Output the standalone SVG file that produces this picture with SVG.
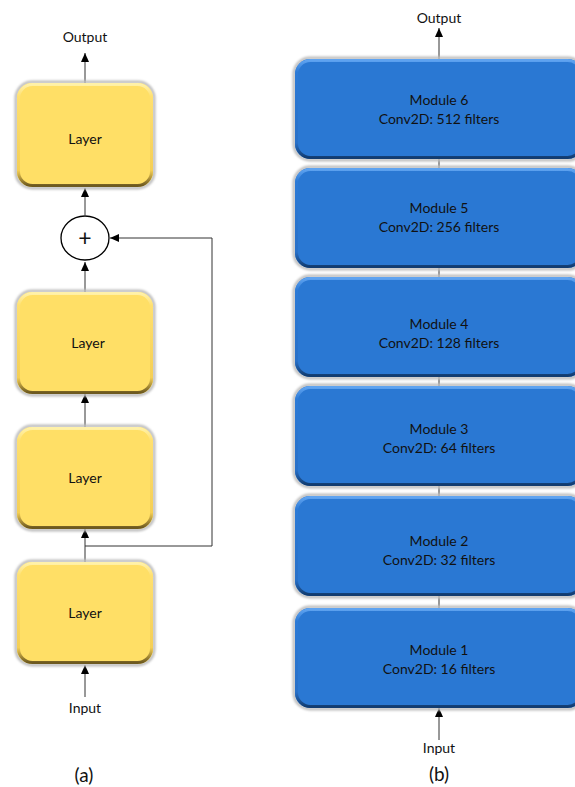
<svg xmlns="http://www.w3.org/2000/svg" width="575" height="787" viewBox="0 0 575 787">
<style>
text{font-family:Lato,"Noto Sans","Liberation Sans",sans-serif;font-size:13px;fill:#111;text-anchor:middle}
.lbl{font-size:14px}
.cap{font-size:19px}
.ln{stroke:#333;stroke-width:1;fill:none}
.y{fill:#FFDF66}
.b{fill:#2A78D3}
.yb{fill:none;stroke:url(#ybev);stroke-width:3}
.bb{fill:none;stroke:url(#bbev);stroke-width:3}
.sh{fill:none;stroke:#bdbdbd;stroke-width:3;filter:url(#blur)}
</style>
<defs>
<linearGradient id="ybev" x1="0" y1="0" x2="0" y2="1">
<stop offset="0" stop-color="#FFF1A8"/>
<stop offset="0.12" stop-color="#FFE070"/>
<stop offset="0.85" stop-color="#F5CF55"/>
<stop offset="1" stop-color="#6e5a20"/>
</linearGradient>
<linearGradient id="bbev" x1="0" y1="0" x2="0" y2="1">
<stop offset="0" stop-color="#5FA3F0"/>
<stop offset="0.12" stop-color="#2C7AD6"/>
<stop offset="0.85" stop-color="#2870C8"/>
<stop offset="1" stop-color="#123c70"/>
</linearGradient>
<filter id="blur" x="-10%" y="-10%" width="120%" height="120%"><feGaussianBlur stdDeviation="1.2"/></filter>
<marker id="ah" markerWidth="10" markerHeight="10" refX="9" refY="5" orient="auto" markerUnits="userSpaceOnUse">
<path d="M0,1 L9,5 L0,9 Z" fill="#000"/>
</marker>
</defs>
<rect width="575" height="787" fill="#fff"/>

<g id="connectors">
<line class="ln" x1="85" y1="83" x2="85" y2="53" marker-end="url(#ah)"/>
<line class="ln" x1="85" y1="215" x2="85" y2="188" marker-end="url(#ah)"/>
<line class="ln" x1="85" y1="292" x2="85" y2="262" marker-end="url(#ah)"/>
<line class="ln" x1="85" y1="427" x2="85" y2="394" marker-end="url(#ah)"/>
<line class="ln" x1="85" y1="562" x2="85" y2="529" marker-end="url(#ah)"/>
<line class="ln" x1="85" y1="697" x2="85" y2="665" marker-end="url(#ah)"/>
<polyline class="ln" points="85,546 212,546 212,238 110,238" marker-end="url(#ah)"/>
<line class="ln" x1="439" y1="59" x2="439" y2="28" marker-end="url(#ah)"/>
<line class="ln" x1="439" y1="158" x2="439" y2="168"/>
<line class="ln" x1="439" y1="268" x2="439" y2="277"/>
<line class="ln" x1="439" y1="376" x2="439" y2="386"/>
<line class="ln" x1="439" y1="486" x2="439" y2="496"/>
<line class="ln" x1="439" y1="595" x2="439" y2="608"/>
<line class="ln" x1="439" y1="740" x2="439" y2="708" marker-end="url(#ah)"/>
</g>

<g id="layer1">
<rect class="sh" x="16" y="82" width="138" height="106" rx="16"/>
<rect class="y" x="17" y="83" width="136" height="104" rx="15"/>
<rect class="yb" x="18.5" y="84.5" width="133" height="101" rx="14"/>
<text class="lbl" x="85" y="144">Layer</text>
</g>
<g id="layer2">
<rect class="sh" x="16" y="291" width="138" height="104" rx="16"/>
<rect class="y" x="17" y="292" width="136" height="102" rx="15"/>
<rect class="yb" x="18.5" y="293.5" width="133" height="99" rx="14"/>
<text class="lbl" x="88" y="348">Layer</text>
</g>
<g id="layer3">
<rect class="sh" x="16" y="426" width="138" height="104" rx="16"/>
<rect class="y" x="17" y="427" width="136" height="102" rx="15"/>
<rect class="yb" x="18.5" y="428.5" width="133" height="99" rx="14"/>
<text class="lbl" x="85" y="483">Layer</text>
</g>
<g id="layer4">
<rect class="sh" x="16" y="561" width="138" height="104" rx="16"/>
<rect class="y" x="17" y="562" width="136" height="102" rx="15"/>
<rect class="yb" x="18.5" y="563.5" width="133" height="99" rx="14"/>
<text class="lbl" x="85" y="618">Layer</text>
</g>
<g id="add">
<ellipse cx="85" cy="238" rx="24" ry="22" fill="#fff" stroke="#000" stroke-width="1.3"/>
<text x="85" y="246" style="font-size:23px">+</text>
</g>
<g id="labels-a">
<text class="lbl" x="85" y="42">Output</text>
<text class="lbl" x="85" y="713">Input</text>
<text class="cap" x="84" y="782">(a)</text>
</g>

<g id="module6">
<rect class="sh" x="294" y="58" width="290" height="102" rx="16"/>
<rect class="b" x="295" y="59" width="288" height="100" rx="15"/>
<rect class="bb" x="296.5" y="60.5" width="285" height="97" rx="14"/>
<text class="lbl" x="439" y="105">Module 6</text>
<text class="lbl" x="439" y="124">Conv2D: 512 filters</text>
</g>
<g id="module5">
<rect class="sh" x="294" y="167" width="290" height="102" rx="16"/>
<rect class="b" x="295" y="168" width="288" height="100" rx="15"/>
<rect class="bb" x="296.5" y="169.5" width="285" height="97" rx="14"/>
<text class="lbl" x="439" y="213">Module 5</text>
<text class="lbl" x="439" y="232">Conv2D: 256 filters</text>
</g>
<g id="module4">
<rect class="sh" x="294" y="276" width="290" height="102" rx="16"/>
<rect class="b" x="295" y="277" width="288" height="100" rx="15"/>
<rect class="bb" x="296.5" y="278.5" width="285" height="97" rx="14"/>
<text class="lbl" x="439" y="329">Module 4</text>
<text class="lbl" x="439" y="348">Conv2D: 128 filters</text>
</g>
<g id="module3">
<rect class="sh" x="294" y="385" width="290" height="102" rx="16"/>
<rect class="b" x="295" y="386" width="288" height="100" rx="15"/>
<rect class="bb" x="296.5" y="387.5" width="285" height="97" rx="14"/>
<text class="lbl" x="439" y="434">Module 3</text>
<text class="lbl" x="439" y="453">Conv2D: 64 filters</text>
</g>
<g id="module2">
<rect class="sh" x="294" y="495" width="290" height="102" rx="16"/>
<rect class="b" x="295" y="496" width="288" height="100" rx="15"/>
<rect class="bb" x="296.5" y="497.5" width="285" height="97" rx="14"/>
<text class="lbl" x="439" y="546">Module 2</text>
<text class="lbl" x="439" y="565">Conv2D: 32 filters</text>
</g>
<g id="module1">
<rect class="sh" x="294" y="607" width="290" height="102" rx="16"/>
<rect class="b" x="295" y="608" width="288" height="100" rx="15"/>
<rect class="bb" x="296.5" y="609.5" width="285" height="97" rx="14"/>
<text class="lbl" x="439" y="655">Module 1</text>
<text class="lbl" x="439" y="674">Conv2D: 16 filters</text>
</g>
<g id="labels-b">
<text class="lbl" x="439" y="753">Input</text>
<text class="lbl" x="439" y="23">Output</text>
<text class="cap" x="439" y="781">(b)</text>
</g>
</svg>
